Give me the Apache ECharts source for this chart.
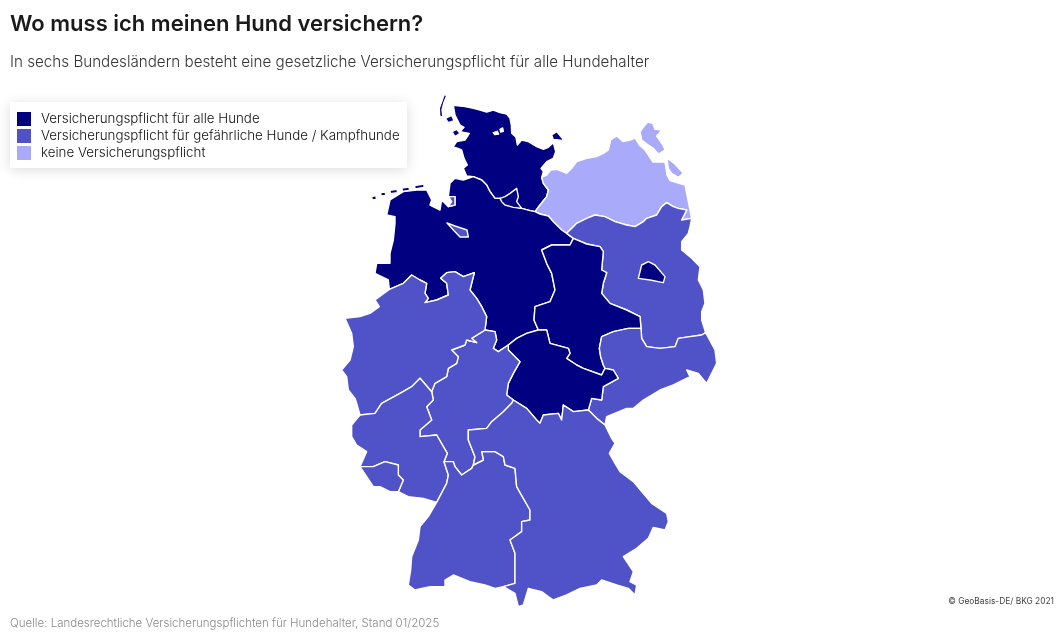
<!DOCTYPE html>
<html lang="de">
<head>
<meta charset="UTF-8">
<title>Wo muss ich meinen Hund versichern?</title>
<script src="https://cdn.jsdelivr.net/npm/echarts@6/dist/echarts.min.js"></script>
</head>
<body style="height: 100%; margin: 0; background: #fff">
<div id="container" style="width:1058px;height:643px"></div>
<script type="text/javascript">

    // Daten
    var categories = ['Versicherungspflicht für alle Hunde', 'Versicherungspflicht für gefährliche Hunde / Kampfhunde', 'keine Versicherungspflicht'];
    var categoryColors = ['#000080', '#5052c8', '#aaaafb'];
    var states = ['Schleswig-Holstein', 'Mecklenburg-Vorpommern', 'Niedersachsen', 'Brandenburg', 'Sachsen-Anhalt', 'Sachsen', 'Thüringen', 'Hessen', 'Nordrhein-Westfalen', 'Rheinland-Pfalz', 'Saarland', 'Baden-Württemberg', 'Bayern', 'Hamburg', 'Bremen', 'Berlin'];
    var stateCategory = [0, 2, 0, 1, 0, 1, 0, 1, 1, 1, 1, 1, 1, 0, 1, 0];

    // Grenzverlaeufe in Karteneinheiten (3 Einheiten = 1px, Ursprung bei 340/90)
    var arcs = {
        elbe: '585,365 570,362 545,355 520,350 495,340 480,325 465,325 450,305 440,285 425,270 400,260',
        shmv: '585,365 600,345 620,320 625,300 610,280 605,262',
        shCoast: '605,262 610,245 603,235 620,215 640,205 647,185 640,158 625,172 610,178 590,170 565,155 545,150 532,165 528,142 515,130 514,105 510,85 500,72 480,68 460,60 440,66 420,60 400,55 375,50 340,46 345,75 360,105 372,112 360,125 388,130 375,150 350,155 340,170 365,180 372,205 382,225 370,235 380,258 400,260',
        mvCoast: '605,262 620,255 632,240 650,238 668,245 680,250 695,235 710,215 740,205 770,200 790,190 805,180 812,150 830,138 850,155 870,150 885,144 898,165 915,180 939,216 975,216 981,255 990,272 1035,285 1044,330 1055,385',
        mvbb: '1055,385 1025,390 1040,360 1015,355 1000,350 980,338 965,350 950,375 920,385 910,395 885,410 860,405 825,395 795,380 765,375 740,385 710,400 700,410 680,430',
        niMv: '585,365 600,372 625,378 640,395 665,420 680,430',
        niBb: '680,430 700,445',
        stBb: '700,445 740,462 780,470 790,485 785,540 800,548 790,580 785,610 810,640 860,660 900,680 903,715',
        bbEast: '1055,385 1050,410 1045,430 1025,455 1025,480 1055,505 1080,530 1075,570 1090,600 1095,640 1085,665 1085,690 1097,728',
        snBb: '1097,728 1085,735 1050,740 1015,745 1005,770 960,775 920,770 905,745 903,715',
        stSn: '903,715 865,715 820,725 785,740 778,775 782,800 790,825 795,835',
        stTh: '795,835 785,855 730,835 710,825 680,805 690,790 685,775 630,760 620,720 595,720',
        stNi: '595,720 582,690 585,650 630,635 645,600 635,550 620,520 605,480 635,465 690,465 700,445',
        thNi: '595,720 560,730 530,745 505,765',
        heNi: '505,765 475,785 460,775 470,750 465,725 435,720',
        nrwNi: '435,720 440,680 425,650 410,625 390,600 403,548 370,560 345,545 320,548 302,565 320,580 325,615 290,630 255,638 265,625 255,610 260,580 240,570 215,555 190,580 148,598',
        niCoast: '148,598 145,570 105,550 110,520 150,520 150,490 160,450 165,400 165,380 140,375 150,330 190,305 230,300 260,300 275,330 270,345 300,360 305,330 325,350 345,345 345,320 325,320 330,280 345,265 370,270 400,260',
        nrwWest: '148,598 105,630 118,650 90,670 60,680 15,685 35,730 40,770 30,810 5,840 20,860 25,900 45,925 50,940 60,975',
        nrwRp: '60,975 105,970 125,940 180,910 215,890 240,865 275,905',
        nrwHe: '435,720 395,745 410,758 380,750 375,765 335,780 355,800 350,820 325,835 320,860 285,880 275,905',
        rpHe: '275,905 280,930 260,950 275,990 240,1020 240,1040 290,1035 310,1070 322,1090 312,1115',
        heBw: '312,1115 340,1115 345,1130 365,1155 395,1135 400,1125',
        heBy: '400,1125 405,1100 385,1050 385,1020 440,1015 455,995 490,965 515,940 520,930',
        heTh: '520,930 500,915 505,880 520,850 540,815 505,780 505,765',
        thBy: '520,930 560,955 590,990 600,1000 610,975 655,970 665,990 670,945 700,965 745,960',
        thSn: '745,960 755,925 785,930 790,890 835,865 820,840 795,835',
        bySn: '745,960 770,985 795,1005',
        snEast: '795,1005 800,980 860,955 880,955 910,930 960,900 1000,885 1050,860 1040,840 1075,850 1100,880 1115,850 1130,820 1125,780 1097,728',
        byEast: '795,1005 815,1045 825,1060 808,1090 825,1120 840,1145 880,1175 905,1205 935,1240 980,1270 985,1295 975,1320 940,1312 925,1345 890,1375 850,1400 880,1445 870,1475 890,1485 885,1515 865,1495 830,1485 785,1470 770,1485 720,1495 680,1515 640,1530 625,1520 605,1505 565,1495 550,1545 535,1550 525,1510 490,1490',
        bwBy: '400,1125 430,1110 425,1085 465,1085 490,1100 495,1125 525,1135 530,1190 550,1225 570,1260 570,1290 545,1295 545,1325 510,1350 525,1390 525,1480 490,1490',
        bwCoast: '490,1490 465,1495 435,1485 390,1475 340,1455 315,1470 315,1490 270,1490 225,1500 205,1485 212,1440 215,1400 235,1350 240,1310 265,1280 290,1237',
        bwRp: '290,1237 320,1180 325,1155 312,1115',
        rpWest: '60,975 35,1005 35,1040 50,1065 80,1085 60,1130',
        slRp: '60,1130 100,1130 135,1115 175,1125 175,1155 190,1170 175,1205',
        slCoast: '60,1130 100,1190 120,1190 150,1205 175,1205',
        rpSouth: '175,1205 205,1220 250,1225 290,1237'
    };

    // Laender als Folge von Grenzstuecken, '-' heisst umgekehrt
    var rings = {
        'Schleswig-Holstein': ['shmv', 'shCoast', '-elbe'],
        'Mecklenburg-Vorpommern': ['shmv', 'mvCoast', 'mvbb', '-niMv'],
        'Niedersachsen': ['elbe', '-niCoast', '-nrwNi', '-heNi', '-thNi', 'stNi', '-niBb', '-niMv'],
        'Brandenburg': ['-mvbb', 'bbEast', 'snBb', '-stBb', '-niBb'],
        'Sachsen-Anhalt': ['stBb', 'stSn', 'stTh', 'stNi'],
        'Sachsen': ['-snBb', '-snEast', '-bySn', 'thSn', '-stSn'],
        'Thüringen': ['-stTh', '-thSn', '-thBy', 'heTh', '-thNi'],
        'Hessen': ['heNi', 'nrwHe', 'rpHe', 'heBw', 'heBy', 'heTh'],
        'Nordrhein-Westfalen': ['nrwWest', 'nrwRp', '-nrwHe', 'nrwNi'],
        'Rheinland-Pfalz': ['-nrwRp', 'rpWest', 'slRp', 'rpSouth', 'bwRp', '-rpHe'],
        'Saarland': ['slRp', '-slCoast'],
        'Baden-Württemberg': ['heBw', 'bwBy', 'bwCoast', 'bwRp'],
        'Bayern': ['-heBy', 'bwBy', '-byEast', '-bySn', '-thBy']
    };

    // Aussparungen in den Hauptflaechen (Schlei)
    var holes = {
        'Schleswig-Holstein': ['460,128 472,124 476,132 464,134', '480,118 488,114 490,124 482,126']
    };

    // Inseln und Stadtstaaten
    var extraRings = {
        'Schleswig-Holstein': [
            '298,55 305,35 313,13 320,17 311,40 306,60 309,82 299,78',
            '316,85 335,76 342,92 325,98',
            '336,125 350,118 360,130 345,140',
            '635,135 650,125 667,145 670,152 650,149 640,149'
        ],
        'Mecklenburg-Vorpommern': [
            '915,105 924,96 938,100 945,118 966,120 950,138 969,165 975,180 955,192 940,175 925,165 905,150 900,125',
            '981,204 1005,222 1030,250 1015,262 995,250 985,235'
        ],
        'Niedersachsen': [
            '95,320 108,317 109,328 97,330', '122,308 136,306 137,316 123,318', '150,301 172,298 172,308 151,311', '186,294 208,291 208,301 187,304', '224,287 252,282 252,292 225,297'
        ],
        'Hamburg': ['480,325 495,320 510,310 530,295 535,320 530,335 545,355 520,352 495,345 485,335'],
        'Bremen': ['321,399 345,408 381,420 385,441 360,441 345,425', '326,320 345,320 345,345 325,350 335,335'],
        'Berlin': ['895,565 905,525 925,515 945,525 975,560 970,578 930,570']
    };

    function parsePoints(text) {
        return text.split(' ').map(function (p) {
            var xy = p.split(',');
            return [+xy[0], -xy[1]];
        });
    }

    function closeRing(pts) {
        pts.push(pts[0]);
        return pts;
    }

    function buildRing(parts) {
        var res = [];
        parts.forEach(function (name) {
            var rev = name.charAt(0) === '-';
            var pts = parsePoints(arcs[rev ? name.slice(1) : name]);
            if (rev) pts.reverse();
            res = res.concat(pts);
        });
        return closeRing(res);
    }

    var features = states.map(function (name) {
        var polys = [];
        if (rings[name]) {
            var main = [buildRing(rings[name])];
            (holes[name] || []).forEach(function (t) {
                main.push(closeRing(parsePoints(t)));
            });
            polys.push(main);
        }
        (extraRings[name] || []).forEach(function (t) {
            polys.push([closeRing(parsePoints(t))]);
        });
        return {
            type: 'Feature',
            properties: {name: name},
            geometry: {type: 'MultiPolygon', coordinates: polys}
        };
    });

    echarts.registerMap('deutschland', {type: 'FeatureCollection', features: features});

    var dom = document.getElementById('container');
    var myChart = echarts.init(dom);
    var font = 'Inter, "Noto Sans", sans-serif';

    var option = {
        backgroundColor: '#fff',
        animation: false,
        title: [
            {text: 'Wo muss ich meinen Hund versichern?', left: 10, top: 13, padding: 0,
                textStyle: {fontFamily: font, fontSize: 22, fontWeight: 600, color: '#1a1a1a'}},
            {text: 'In sechs Bundesländern besteht eine gesetzliche Versicherungspflicht für alle Hundehalter', left: 10, top: 55, padding: 0,
                textStyle: {fontFamily: font, fontSize: 15.2, fontWeight: 300, color: '#333'}},
            {text: 'Quelle: Landesrechtliche Versicherungspflichten für Hundehalter, Stand 01/2025', left: 10, top: 618, padding: 0,
                textStyle: {fontFamily: font, fontSize: 11.5, fontWeight: 300, color: '#8a8a8a'}},
            {text: '© GeoBasis-DE/ BKG 2021', right: 4, top: 597, padding: 0,
                textStyle: {fontFamily: font, fontSize: 8.4, fontWeight: 400, color: '#444'}}
        ],
        graphic: [{
            type: 'rect', z: -1, silent: true,
            shape: {x: 10, y: 102, width: 397, height: 66},
            style: {fill: '#fff', shadowBlur: 12, shadowColor: 'rgba(0,0,0,0.14)', shadowOffsetY: 2}
        }],
        visualMap: {
            type: 'piecewise',
            left: 17, top: 112, padding: 0,
            orient: 'vertical',
            inverse: true,
            itemWidth: 14, itemHeight: 14, itemGap: 3, textGap: 10,
            itemSymbol: 'rect',
            selectedMode: false,
            showLabel: true,
            textStyle: {fontFamily: font, fontSize: 13.35, fontWeight: 300, color: '#111'},
            pieces: categories.map(function (label, i) {
                return {value: i, label: label, color: categoryColors[i]};
            })
        },
        series: [{
            type: 'map',
            map: 'deutschland',
            silent: true,
            selectedMode: false,
            roam: false,
            aspectScale: 1,
            boundingCoords: [[-1020, 270], [2154, -1659]],
            left: 0, top: 0, width: 1058, height: 643,
            label: {show: false},
            emphasis: {disabled: true},
            itemStyle: {borderColor: '#fff', borderWidth: 1.4, borderJoin: 'round'},
            data: states.map(function (name, i) {
                return {name: name, value: stateCategory[i]};
            })
        }]
    };

    myChart.setOption(option);

</script>
</body>
</html>
